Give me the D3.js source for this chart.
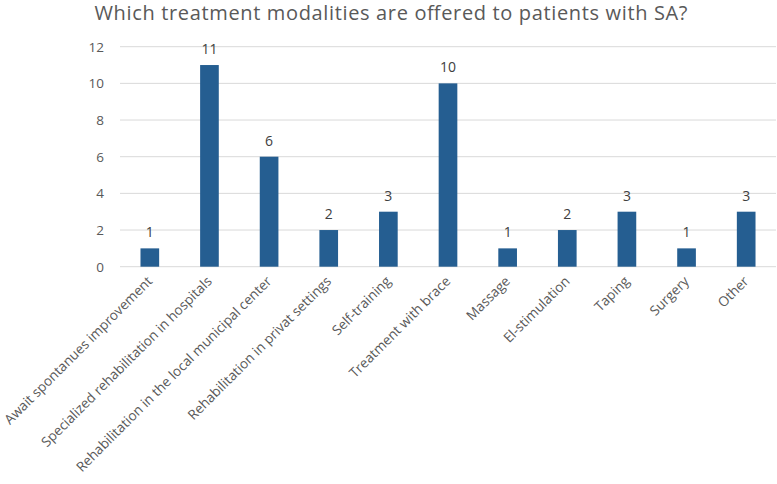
<!DOCTYPE html>
<html>
<head>
<meta charset="utf-8">
<script src="https://cdn.jsdelivr.net/npm/d3@7"></script>
<style>
  html, body { margin: 0; padding: 0; background: #fff; }
  svg { display: block; }
  text { font-family: "Open Sans", "Noto Sans", sans-serif; }
</style>
</head>
<body>
<svg id="chart" width="777" height="484"></svg>
<script>
const title = "Which treatment modalities are offered to patients with SA?";
const categories = [
  "Await spontanues improvement",
  "Specialized rehabilitation in hospitals",
  "Rehabilitation in the local municipal center",
  "Rehabilitation in privat settings",
  "Self-training",
  "Treatment with brace",
  "Massage",
  "El-stimulation",
  "Taping",
  "Surgery",
  "Other"
];
const values = [1, 11, 6, 2, 3, 10, 1, 2, 3, 1, 3];
const yTicks = [0, 2, 4, 6, 8, 10, 12];

const svg = d3.select("#chart");
const plot = { left: 120, right: 776, top: 46.7, bottom: 266.7 };

const x = d3.scaleBand()
  .domain(categories)
  .range([plot.left, plot.right])
  .paddingInner(0.687)
  .paddingOuter(0.3435);

const y = d3.scaleLinear()
  .domain([0, 12])
  .range([plot.bottom, plot.top]);

// title
svg.append("text")
  .attr("x", 391)
  .attr("y", 19.5)
  .attr("text-anchor", "middle")
  .attr("font-size", 20)
  .attr("fill", "#595959")
  .attr("textLength", 593)
  .text(title);

// gridlines
svg.append("g")
  .selectAll("line")
  .data(yTicks)
  .join("line")
  .attr("x1", plot.left)
  .attr("x2", plot.right)
  .attr("y1", d => y(d))
  .attr("y2", d => y(d))
  .attr("stroke", "#d9d9d9")
  .attr("stroke-width", 1);

// y axis labels
const yAxis = d3.axisLeft(y).tickValues(yTicks).tickSize(0).tickPadding(0);
const yg = svg.append("g")
  .attr("transform", `translate(${plot.left - 16},0)`)
  .call(yAxis);
yg.select(".domain").remove();
yg.selectAll("text")
  .attr("font-size", 13.5)
  .attr("fill", "#595959")
  .attr("font-family", "'Open Sans', 'Noto Sans', sans-serif");

// bars
svg.append("g")
  .selectAll("rect")
  .data(values)
  .join("rect")
  .attr("x", (d, i) => x(categories[i]))
  .attr("y", d => y(d))
  .attr("width", x.bandwidth())
  .attr("height", d => y(0) - y(d))
  .attr("fill", "#255e91");

// data labels
svg.append("g")
  .selectAll("text")
  .data(values)
  .join("text")
  .attr("x", (d, i) => x(categories[i]) + x.bandwidth() / 2)
  .attr("y", d => y(d) - 11)
  .attr("text-anchor", "middle")
  .attr("font-size", 14)
  .attr("fill", "#404040")
  .text(d => d);

// x axis labels
const xAxis = d3.axisBottom(x).tickSize(0).tickPadding(0);
const xg = svg.append("g")
  .attr("transform", `translate(0,${plot.bottom})`)
  .call(xAxis);
xg.select(".domain").remove();
xg.selectAll("text")
  .attr("font-size", 13.6)
  .attr("fill", "#595959")
  .attr("font-family", "'Open Sans', 'Noto Sans', sans-serif")
  .attr("text-anchor", "end")
  .attr("dy", "0.35em")
  .attr("transform", "translate(0,12) rotate(-45)");
</script>
</body>
</html>
